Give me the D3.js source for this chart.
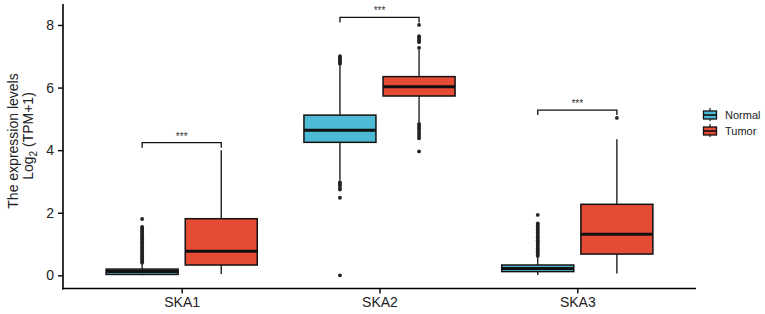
<!DOCTYPE html>
<html>
<head>
<meta charset="utf-8">
<script src="https://cdn.jsdelivr.net/npm/d3@7"></script>
<style>
  body { margin: 0; background: #fff; }
  svg { font-family: Arial, "Liberation Sans", sans-serif; }
</style>
</head>
<body>
<svg id="chart" width="765" height="314"></svg>
<script>
// genes on the x axis, groups dodged inside each gene
const genes = ["SKA1", "SKA2", "SKA3"];
const groups = ["Normal", "Tumor"];
const groupColors = ["#4DBBD5", "#E64B35"];
const yTicks = [0, 2, 4, 6, 8];

// box stats per gene: [lower whisker, q1, median, q3, upper whisker]
const normalStats = [
  [0.0, 0.03, 0.12, 0.2, 0.36],
  [3.05, 4.25, 4.64, 5.12, 6.72],
  [0.01, 0.12, 0.22, 0.33, 0.58]
];
const tumorStats = [
  [0.04, 0.33, 0.77, 1.81, 4.0],
  [4.88, 5.73, 6.03, 6.35, 7.22],
  [0.06, 0.68, 1.31, 2.27, 4.35]
];

// outliers
const normalOutliers = [
  [0.4, 0.45, 0.5, 0.55, 0.6, 0.65, 0.7, 0.75, 0.8, 0.85, 0.9, 0.95, 1.0, 1.05, 1.1, 1.15, 1.2, 1.25, 1.3, 1.35, 1.4, 1.45, 1.5, 1.55, 1.8],
  [6.76, 6.8, 6.84, 6.88, 6.92, 6.96, 7.0, 2.98, 2.93, 2.88, 2.8, 2.74, 2.48, 0.0],
  [0.62, 0.67, 0.72, 0.77, 0.82, 0.87, 0.92, 0.97, 1.02, 1.07, 1.12, 1.17, 1.22, 1.27, 1.32, 1.37, 1.42, 1.47, 1.52, 1.57, 1.62, 1.66, 1.93]
];
const tumorOutliers = [
  [],
  [7.27, 7.45, 7.5, 7.55, 7.6, 7.64, 8.0, 4.84, 4.78, 4.72, 4.66, 4.58, 4.52, 4.45, 4.38, 3.96],
  [5.03]
];

// significance brackets: height (data units) and label
const bracketY = [4.24, 8.24, 5.28];
const bracketLabel = ["***", "***", "***"];

const svg = d3.select("#chart");
const plotLeft = 63, plotRight = 696, plotTop = 4, plotBottom = 288.5;

// ggplot-like expand: 0.6 units either side
const unit = (plotRight - plotLeft) / 3.2;
const xc = g => plotLeft + (0.6 + genes.indexOf(g)) * unit;
const dodge = 0.4 * unit;
const boxW = 72;

const y = d3.scaleLinear().domain([-0.42, 8.67]).range([plotBottom, plotTop]);

// axes
const yAxis = svg.append("g")
  .attr("transform", `translate(${plotLeft},0)`)
  .call(d3.axisLeft(y).tickValues(yTicks).tickSize(5).tickPadding(4).tickFormat(d3.format("d")));
yAxis.select(".domain").attr("d", `M0,${plotTop}V${plotBottom + 1}`).attr("stroke", "#000").attr("stroke-width", 1.6);
yAxis.selectAll(".tick line").attr("stroke", "#000").attr("stroke-width", 1.4);
yAxis.selectAll(".tick text").attr("font-size", 14).attr("fill", "#222");

const xAxis = svg.append("g")
  .attr("transform", `translate(0,${plotBottom})`)
  .call(d3.axisBottom(d3.scalePoint().domain(genes).range([xc("SKA1"), xc("SKA3")])).tickSize(5).tickPadding(4));
xAxis.select(".domain").attr("d", `M${plotLeft - 1},0H${plotRight}`).attr("stroke", "#000").attr("stroke-width", 1.6);
xAxis.selectAll(".tick line").attr("stroke", "#000").attr("stroke-width", 1.4);
xAxis.selectAll(".tick text").attr("font-size", 14).attr("fill", "#222");

// y title
const yt = svg.append("text")
  .attr("transform", "translate(18,141) rotate(-90)")
  .attr("text-anchor", "middle").attr("font-size", 14).attr("fill", "#222");
yt.append("tspan").attr("x", 0).attr("dy", 0).text("The expression levels");
const yt2 = svg.append("text")
  .attr("transform", "translate(33,136) rotate(-90)")
  .attr("text-anchor", "middle").attr("font-size", 14).attr("fill", "#222");
yt2.append("tspan").text("Log");
yt2.append("tspan").attr("font-size", 10).attr("dy", 4).text("2");
yt2.append("tspan").attr("dy", -4).text(" (TPM+1)");

// boxes
const allStats = [normalStats, tumorStats];
const allOutliers = [normalOutliers, tumorOutliers];
const boxes = [];
genes.forEach((g, gi) => {
  groups.forEach((grp, k) => {
    boxes.push({ gene: g, group: k, stats: allStats[k][gi], out: allOutliers[k][gi],
      cx: xc(g) + (k === 0 ? -dodge / 2 : dodge / 2) });
  });
});

const bg = svg.append("g").selectAll("g").data(boxes).join("g");
bg.append("line")
  .attr("x1", d => d.cx).attr("x2", d => d.cx)
  .attr("y1", d => y(d.stats[0])).attr("y2", d => y(d.stats[4]))
  .attr("stroke", "#111").attr("stroke-width", 1.3);
bg.selectAll("circle").data(d => d.out.map(v => ({ v, cx: d.cx }))).join("circle")
  .attr("cx", d => d.cx).attr("cy", d => y(d.v)).attr("r", 1.9).attr("fill", "#222");
bg.append("rect")
  .attr("x", d => d.cx - boxW / 2).attr("width", boxW)
  .attr("y", d => y(d.stats[3])).attr("height", d => y(d.stats[1]) - y(d.stats[3]))
  .attr("fill", d => groupColors[d.group]).attr("stroke", "#111").attr("stroke-width", 1.5);
bg.append("line")
  .attr("x1", d => d.cx - boxW / 2).attr("x2", d => d.cx + boxW / 2)
  .attr("y1", d => y(d.stats[2])).attr("y2", d => y(d.stats[2]))
  .attr("stroke", "#111").attr("stroke-width", 3);

// significance brackets
genes.forEach((g, gi) => {
  const x1 = xc(g) - dodge / 2, x2 = xc(g) + dodge / 2, yy = y(bracketY[gi]);
  svg.append("path")
    .attr("d", `M${x1},${yy + 5}V${yy}H${x2}V${yy + 5}`)
    .attr("fill", "none").attr("stroke", "#111").attr("stroke-width", 1.3);
  svg.append("text").attr("x", (x1 + x2) / 2).attr("y", yy - 3)
    .attr("text-anchor", "middle").attr("font-size", 10).attr("fill", "#333").text(bracketLabel[gi]);
});

// legend
const lg = svg.append("g").attr("transform", "translate(703,110)");
groups.forEach((grp, k) => {
  const item = lg.append("g").attr("transform", `translate(0,${k * 16})`);
  item.append("line").attr("x1", 7).attr("x2", 7).attr("y1", -2).attr("y2", 11).attr("stroke", "#111").attr("stroke-width", 1.2);
  item.append("rect").attr("x", 0.5).attr("y", 1).attr("width", 13).attr("height", 8)
    .attr("fill", groupColors[k]).attr("stroke", "#111").attr("stroke-width", 1.3);
  item.append("line").attr("x1", 0.5).attr("x2", 13.5).attr("y1", 5).attr("y2", 5).attr("stroke", "#111").attr("stroke-width", 1.6);
  item.append("text").attr("x", 22).attr("y", 9).attr("font-size", 11).attr("fill", "#222").text(grp);
});
</script>
</body>
</html>
